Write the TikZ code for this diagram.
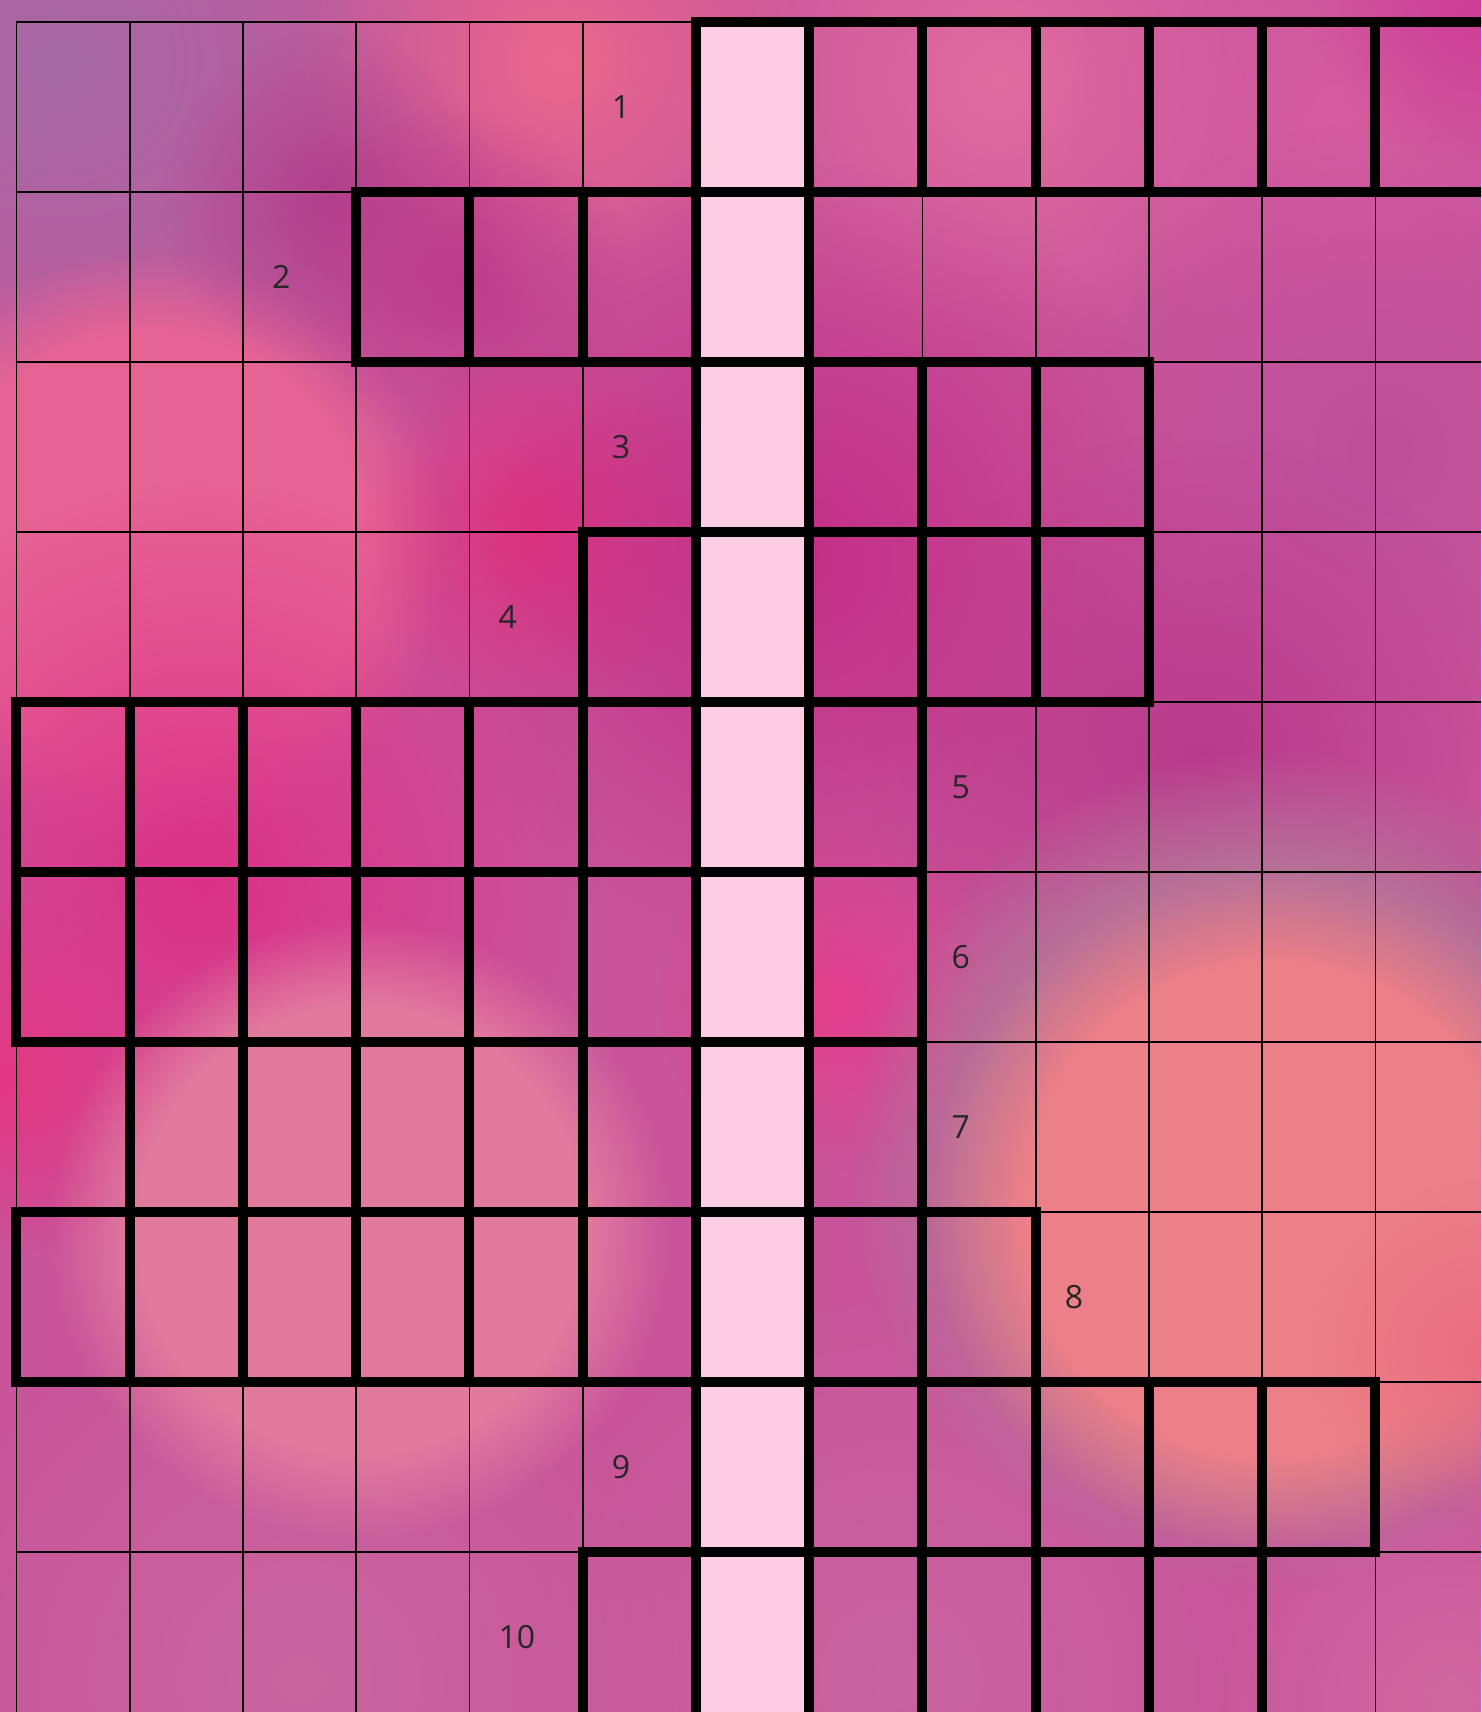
\documentclass[tikz,border=0pt]{standalone}
\usepackage{fontspec}
\setmainfont{Open Sans}
\usetikzlibrary{fadings}
\pgfdeclareradialshading{softshade}{\pgfpointorigin}{color(0bp)=(white); color(25bp)=(black); color(50bp)=(black)}
\pgfdeclarefading{softblob}{\pgfuseshading{softshade}}
\pgfdeclareradialshading{bokehshade}{\pgfpointorigin}{color(0bp)=(white); color(18bp)=(white); color(25bp)=(black); color(50bp)=(black)}
\pgfdeclarefading{bokeh}{\pgfuseshading{bokehshade}}
\definecolor{basecol}{RGB}{200,85,154}
\definecolor{hlcol}{RGB}{251,204,226}
\tikzset{
  thinline/.style={draw=black, line width=1.8pt},
  thickline/.style={draw=black, line width=10pt},
  cluenum/.style={anchor=west, inner sep=0pt, font=\fontsize{32}{38}\selectfont, text=black!85},
}
\begin{document}
\begin{tikzpicture}[x=1pt,y=-1pt]
\useasboundingbox (0,0) rectangle (1481,1712);
\clip (0,0) rectangle (1481,1712);
\fill[basecol] (0,0) rectangle (1481,1712);
% broad soft washes: x / y / extent / colour
\foreach \bx/\by/\br/\bc in {
  60/60/450/{rgb,255:red,165;green,105;blue,165},
  560/60/260/{rgb,255:red,234;green,104;blue,140},
  1000/80/300/{rgb,255:red,225;green,108;blue,160},
  1350/120/280/{rgb,255:red,214;green,92;blue,160},
  1481/0/170/{rgb,255:red,205;green,60;blue,150},
  300/1680/400/{rgb,255:red,200;green,102;blue,158},
  900/1680/400/{rgb,255:red,200;green,100;blue,160},
  1450/1700/250/{rgb,255:red,210;green,105;blue,160}}
{
  \fill[color=\bc, path fading=softblob] (\bx,\by) circle ({\br*1pt});
}
% light circle upper left
\fill[color={rgb,255:red,230;green,100;blue,148}, path fading=bokeh] (150,550) circle (300pt);
\foreach \bx/\by/\br/\bc in {
  330/200/170/{rgb,255:red,178;green,64;blue,140},
  460/280/170/{rgb,255:red,190;green,60;blue,140},
  540/530/180/{rgb,255:red,232;green,52;blue,122},
  800/560/400/{rgb,255:red,195;green,46;blue,135},
  1380/450/330/{rgb,255:red,190;green,80;blue,155},
  1200/760/330/{rgb,255:red,185;green,58;blue,140},
  200/880/400/{rgb,255:red,220;green,50;blue,135},
  0/1080/180/{rgb,255:red,228;green,55;blue,130},
  830/1000/180/{rgb,255:red,228;green,62;blue,140},
  1470/1000/170/{rgb,255:red,178;green,50;blue,135}}
{
  \fill[color=\bc, path fading=softblob] (\bx,\by) circle ({\br*1pt});
}
% bokeh circles: rim, salmon, lower-left light
\fill[color={rgb,255:red,182;green,112;blue,152}, path fading=bokeh] (1270,1170) circle (420pt);
\fill[color={rgb,255:red,236;green,128;blue,136}, path fading=bokeh] (1270,1210) circle (340pt);
\fill[color={rgb,255:red,234;green,110;blue,128}, path fading=softblob] (1480,1350) circle (170pt);
\fill[color={rgb,255:red,226;green,122;blue,158}, path fading=bokeh] (360,1230) circle (310pt);
% highlighted column
\fill[hlcol] ({16.4+113.25*6},22) rectangle ({16.4+113.25*7},1730);
% thin grid
\foreach \c in {0,...,13}
  \draw[thinline] ({16.4+113.25*\c},22) -- ({16.4+113.25*\c},1730);
\foreach \r in {0,...,10}
  \draw[thinline] (16.4,{22+170*\r}) -- (1500,{22+170*\r});
% answer boxes
\foreach \r/\a/\b in {0/6/12,1/3/6,2/6/9,3/5/9,4/0/7,5/0/7,6/1/7,7/0/8,8/6/11,9/5/10}
  \foreach \c in {\a,...,\b}
    \draw[thickline] ({16.4+113.25*\c},{22+170*\r}) rectangle ({16.4+113.25*(\c+1)},{22+170*(\r+1)});
% clue numbers
\foreach \n/\r/\c in {1/0/5,2/1/2,3/2/5,4/3/4,5/4/8,6/5/8,7/6/8,8/7/9,9/8/5,10/9/4}
  \node[cluenum] (n\n) at ({16.4+113.25*\c+29},{22+170*\r+85}) {\n};
\end{tikzpicture}
\end{document}
